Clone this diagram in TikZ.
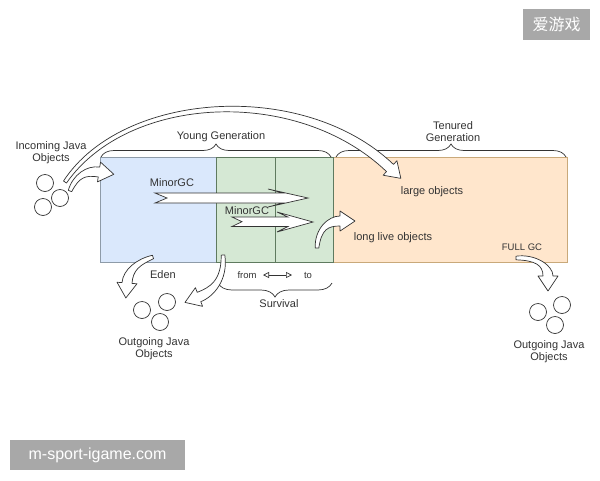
\documentclass[tikz,border=0pt]{standalone}
\usepackage{fontspec}
\setmainfont{Liberation Sans}
\newfontfamily\cjkfont{Noto Sans CJK SC}
\usetikzlibrary{calc,decorations.pathreplacing,arrows.meta}
\definecolor{edenfill}{HTML}{DAE8FC}
\definecolor{edenline}{HTML}{8E9BA8}
\definecolor{survfill}{HTML}{D5E8D4}
\definecolor{survline}{HTML}{5F7A5F}
\definecolor{tenfill}{HTML}{FFE6CC}
\definecolor{tenline}{HTML}{C9A97A}
\definecolor{ink}{HTML}{333333}
\definecolor{wmgray}{HTML}{A8A8A8}
\tikzset{
  region/.style={draw, line width=0.8pt, inner sep=0pt, minimum height=105, anchor=north west},
  lbl/.style={text=ink, inner sep=1pt, align=center, font=\fontsize{11}{12}\selectfont},
  smalllbl/.style={text=ink, inner sep=1pt, font=\fontsize{9.5}{11}\selectfont},
  ball/.style={circle, draw=ink, line width=0.7pt, minimum size=17, inner sep=0pt},
  hollow/.style={draw=ink, fill=white, line width=0.7pt, line join=round},
  blockarrow/.style={draw=ink, fill=white, line width=0.7pt, line join=miter},
  bracepath/.style={draw=ink, line width=0.7pt, decorate},
  wmbox/.style={fill=wmgray, text=white, inner sep=0pt, font=\fontsize{16}{18}\selectfont}
}
\newcommand\hollowcurve[4]{%
  \draw[hollow] ($(#1)!1.8pt!90:(#2)$) .. controls ($(#2)!3.5pt!-90:(#1)$) and ($(#3)!5pt!90:(#4)$) ..
    ($(#4)!5pt!-90:(#3)$) -- ($(#4)!10pt!-90:(#3)$) -- ($(#4)!15pt!180:(#3)$) --
    ($(#4)!10pt!90:(#3)$) -- ($(#4)!5pt!90:(#3)$) .. controls ($(#3)!5pt!-90:(#4)$) and ($(#2)!3.5pt!90:(#1)$) ..
    ($(#1)!1.8pt!-90:(#2)$) -- cycle;}
\begin{document}
\begin{tikzpicture}[x=1pt, y=-1pt]
\useasboundingbox (0,0) rectangle (600,480);
\fill[white] (0,0) rectangle (600,480);

% regions
\node[region, fill=edenfill, draw=edenline, minimum width=116] (eden) at (100,157) {};
\node[region, fill=tenfill, draw=tenline, minimum width=234] (ten) at (333,157) {};
\node[region, fill=survfill, draw=survline, minimum width=59] (from) at (216,157) {};
\node[region, fill=survfill, draw=survline, minimum width=58] (to) at (275,157) {};

% braces
\draw[bracepath, decoration={brace, amplitude=13pt}] (101,157) -- (331,157);
\draw[bracepath, decoration={brace, amplitude=13pt}] (336,157) -- (566,157);
\draw[bracepath, decoration={brace, amplitude=14pt}] (332,283) -- (218,283);

% labels
\node[lbl] (young) at (221,137) {Young Generation};
\node[lbl] (tenured) at (453,132) {Tenured\\Generation};
\node[lbl] (incoming) at (51,153) {Incoming Java\\Objects};
\node[lbl] (minor1) at (172,183) {MinorGC};
\node[lbl] (minor2) at (247,211) {MinorGC};
\node[lbl] (large) at (432,192) {large objects};
\node[lbl] (long) at (393,238) {long live objects};
\node[smalllbl] (fullgc) at (522,247) {FULL GC};
\node[lbl] (edenlbl) at (163,275) {Eden};
\node[smalllbl] (fromlbl) at (247,275) {from};
\node[smalllbl] (tolbl) at (308,275) {to};
\node[lbl] (survival) at (279,304) {Survival};
\node[lbl] (out1) at (154,349) {Outgoing Java\\Objects};
\node[lbl] (out2) at (549,352) {Outgoing Java\\Objects};

% from <-> to
\coordinate (fa) at (263,275);
\coordinate (fb) at (292,275);
\draw[ink, line width=0.7pt, {Triangle[open, length=6pt, width=6pt]}-{Triangle[open, length=6pt, width=6pt]}] (fa) -- (fb);

% balls
\node[ball] (i1) at (45,183) {};
\node[ball] (i2) at (60,198) {};
\node[ball] (i3) at (43,207) {};
\node[ball] (o1) at (142,310) {};
\node[ball] (o2) at (167,302) {};
\node[ball] (o3) at (160,322) {};
\node[ball] (o4) at (538,312) {};
\node[ball] (o5) at (562,305) {};
\node[ball] (o6) at (555,325) {};

% block arrows (MinorGC)
\draw[blockarrow] (155,193) -- (283,193) -- (268,189) -- (308,198) -- (268,207) -- (283,203) -- (155,203) -- (167,198) -- cycle;
\draw[blockarrow] (232,217) -- (288,217) -- (277,212) -- (313,222) -- (277,232) -- (288,226.5) -- (232,226.5) -- (242,221.7) -- cycle;

% curved hollow arrows
\hollowcurve{65,182}{125,93}{300,82}{390,168}
\hollowcurve{70,191}{76,176}{86,170}{99,172}
\hollowcurve{153,257}{138,262}{128,270}{127,283}
\hollowcurve{223,255}{225,280}{212,292}{199,297}
\hollowcurve{317,248}{318,229}{328,221}{340,221}
\hollowcurve{516,258}{535,257}{548,265}{548,276}

% watermarks
\node[wmbox, minimum width=67, minimum height=31] (wm1) at (556.5,24.5) {\cjkfont 爱游戏};
\node[wmbox, minimum width=175, minimum height=30] (wm2) at (97.5,455) {m-sport-igame.com};
\end{tikzpicture}
\end{document}
